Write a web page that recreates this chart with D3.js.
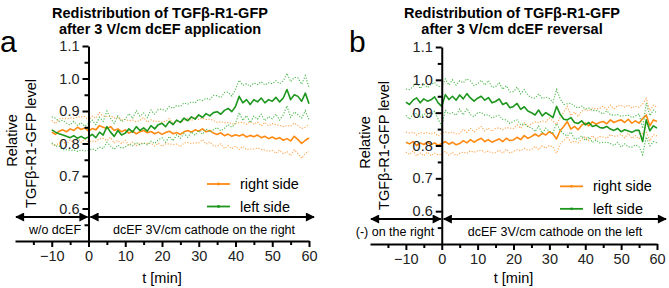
<!DOCTYPE html>
<html>
<head>
<meta charset="utf-8">
<script src="https://cdn.jsdelivr.net/npm/d3@7"></script>
<style>
  body { margin: 0; background: #fff; }
  svg { display: block; font-family: Arial, "Liberation Sans", sans-serif; }
</style>
</head>
<body>
<svg id="chart" width="669" height="288"></svg>
<script>
// ---- data (relative TGFb-R1-GFP level, mean and SEM, one value per minute)
const times = [-10,-9,-8,-7,-6,-5,-4,-3,-2,-1,
  0,1,2,3,4,5,6,7,8,9,
  10,11,12,13,14,15,16,17,18,19,
  20,21,22,23,24,25,26,27,28,29,
  30,31,32,33,34,35,36,37,38,39,
  40,41,42,43,44,45,46,47,48,49,
  50,51,52,53,54,55,56,57,58,59,
  60];

// panel a: dcEF application
const aRightMean = [.835,.828,.838,.842,.836,.845,.840,.850,.843,.848,
  .838,.846,.842,.855,.850,.846,.852,.840,.845,.836,
  .842,.832,.838,.830,.836,.840,.833,.837,.830,.835,
  .828,.834,.838,.830,.834,.828,.836,.840,.835,.842,
  .838,.845,.836,.840,.832,.828,.833,.824,.829,.822,
  .827,.823,.828,.820,.825,.821,.826,.818,.822,.815,
  .820,.814,.818,.810,.815,.808,.822,.812,.800,.810,
  .817];
const aRightErr = [.036,.033,.038,.035,.040,.034,.037,.032,.039,.035,
  .033,.038,.036,.040,.034,.037,.033,.039,.035,.036,
  .032,.038,.034,.037,.035,.040,.033,.036,.038,.034,
  .037,.035,.039,.033,.036,.038,.034,.037,.035,.040,
  .036,.033,.038,.035,.039,.037,.034,.040,.036,.038,
  .035,.041,.037,.039,.042,.038,.040,.036,.043,.039,
  .041,.044,.038,.042,.040,.045,.041,.043,.046,.040,
  .042];
const aLeftMean = [.842,.835,.830,.826,.822,.818,.824,.816,.822,.815,
  .820,.828,.818,.835,.826,.852,.835,.822,.840,.826,
  .832,.845,.835,.852,.840,.848,.838,.855,.845,.858,
  .862,.852,.868,.858,.872,.865,.878,.870,.882,.875,
  .888,.880,.892,.885,.895,.898,.890,.902,.908,.898,
  .914,.945,.925,.935,.920,.935,.928,.940,.925,.935,
  .930,.942,.928,.940,.966,.935,.950,.945,.930,.955,
  .922];
const aLeftErr = [.040,.043,.038,.045,.041,.039,.044,.040,.042,.038,
  .041,.044,.040,.046,.042,.048,.043,.040,.045,.041,
  .043,.047,.042,.049,.044,.046,.042,.048,.045,.047,
  .044,.048,.046,.050,.045,.049,.047,.051,.046,.050,
  .048,.052,.047,.050,.053,.049,.051,.055,.050,.048,
  .052,.050,.054,.049,.056,.051,.053,.050,.055,.052,
  .054,.051,.056,.052,.050,.055,.053,.057,.052,.054,
  .050];

// panel b: dcEF reversal
const bRightMean = [.810,.805,.812,.800,.808,.803,.810,.802,.808,.800,
  .806,.812,.804,.810,.802,.806,.815,.808,.818,.810,
  .817,.822,.812,.818,.810,.815,.820,.812,.822,.815,
  .817,.825,.818,.830,.822,.827,.835,.828,.837,.832,
  .842,.835,.820,.845,.858,.873,.850,.858,.848,.862,
  .868,.860,.872,.865,.870,.873,.866,.878,.870,.875,
  .878,.870,.880,.868,.875,.868,.882,.893,.860,.878,
  .873];
const bRightErr = [.030,.033,.029,.032,.031,.034,.030,.033,.031,.029,
  .032,.030,.034,.031,.033,.030,.035,.032,.034,.031,
  .033,.036,.032,.035,.033,.037,.034,.036,.033,.038,
  .035,.038,.034,.039,.036,.040,.037,.041,.038,.040,
  .042,.039,.044,.040,.043,.046,.041,.044,.040,.043,
  .041,.045,.042,.046,.043,.047,.044,.045,.042,.046,
  .044,.047,.043,.046,.045,.048,.044,.050,.046,.045,
  .044];
const bLeftMean = [.932,.925,.938,.945,.930,.942,.935,.939,.948,.930,
  .919,.955,.940,.950,.938,.954,.942,.958,.945,.935,
  .944,.950,.938,.946,.930,.934,.942,.925,.930,.915,
  .919,.928,.910,.918,.905,.900,.893,.908,.890,.900,
  .893,.885,.919,.895,.880,.878,.885,.870,.867,.875,
  .863,.870,.858,.862,.855,.853,.858,.850,.846,.852,
  .842,.848,.844,.840,.846,.846,.812,.878,.845,.860,
  .853];
const bLeftErr = [.040,.045,.042,.048,.043,.046,.041,.047,.044,.050,
  .060,.048,.044,.050,.046,.043,.049,.045,.051,.047,
  .044,.049,.046,.052,.047,.045,.050,.046,.052,.048,
  .045,.050,.047,.052,.048,.046,.051,.049,.053,.047,
  .050,.046,.052,.048,.045,.049,.044,.050,.047,.045,
  .048,.044,.049,.045,.047,.043,.048,.044,.046,.042,
  .047,.043,.048,.045,.044,.050,.040,.052,.046,.048,
  .045];

const seriesNames = ['right side', 'left side'];
const yTicks = [0.6, 0.7, 0.8, 0.9, 1.0, 1.1];
const yMinor = [0.55, 0.65, 0.75, 0.85, 0.95, 1.05];
const xTicks = [-10, 0, 10, 20, 30, 40, 50, 60];
const xMinor = [-15, -5, 5, 15, 25, 35, 45, 55];

// ---- style
const orange = '#ff8a12';
const orangeLight = '#ffa64d';
const green = '#1c961c';
const greenLight = '#4cb84c';

const svg = d3.select('#chart');

// arrowhead marker
const defs = svg.append('defs');
defs.append('marker')
  .attr('id', 'head')
  .attr('viewBox', '0 0 10 10')
  .attr('refX', 9)
  .attr('refY', 5)
  .attr('markerWidth', 5)
  .attr('markerHeight', 4.5)
  .attr('orient', 'auto-start-reverse')
  .append('path')
  .attr('d', 'M0,0 L10,5 L0,10 z')
  .attr('fill', '#000');

const panels = [
  {
    letter: 'a', letterX: 0, titleX: 160,
    title2: 'after 3 V/cm dcEF application',
    x0: 15, x1: 309, yBottom: 241, yTop: 46,
    ylab1: 17, ylab2: 36,
    right: [aRightMean, aRightErr], left: [aLeftMean, aLeftErr],
    arrowY: 217, arrowEnd: 314,
    leftText: 'w/o dcEF', leftTextX: 55,
    rightText: 'dcEF 3V/cm cathode on the right', rightTextX: 204,
    legX: 207
  },
  {
    letter: 'b', letterX: 349, titleX: 512,
    title2: 'after 3 V/cm dcEF reversal',
    x0: 370, x1: 657, yBottom: 244, yTop: 47,
    ylab1: 370, ylab2: 389,
    right: [bRightMean, bRightErr], left: [bLeftMean, bLeftErr],
    arrowY: 219, arrowEnd: 666,
    leftText: '(-) on the right', leftTextX: 395,
    rightText: 'dcEF 3V/cm cathode on the left', rightTextX: 555,
    legX: 560
  }
];

panels.forEach((p) => {
  const g = svg.append('g');

  const x = d3.scaleLinear().domain([-20, 60]).range([p.x0, p.x1]);
  const y = d3.scaleLinear().domain([0.5, 1.1]).range([p.yBottom, p.yTop]);

  // titles
  g.append('text')
    .attr('x', p.titleX).attr('y', 18)
    .attr('text-anchor', 'middle')
    .attr('font-size', 14.5).attr('font-weight', 'bold')
    .text('Redistribution of TGFβ-R1-GFP');
  g.append('text')
    .attr('x', p.titleX).attr('y', 34)
    .attr('text-anchor', 'middle')
    .attr('font-size', 14.5).attr('font-weight', 'bold')
    .text(p.title2);

  g.append('text')
    .attr('x', p.letterX).attr('y', 52)
    .attr('font-size', 30)
    .text(p.letter);

  // y label
  const yMid = (p.yBottom + p.yTop) / 2;
  g.append('text')
    .attr('transform', `translate(${p.ylab1},${yMid - 3}) rotate(-90)`)
    .attr('text-anchor', 'middle')
    .attr('font-size', 14.5)
    .text('Relative');
  g.append('text')
    .attr('transform', `translate(${p.ylab2},${yMid}) rotate(-90)`)
    .attr('text-anchor', 'middle')
    .attr('font-size', 14.5)
    .text('TGFβ-R1-GFP level');

  // series
  const drawSeries = (mean, err, col, colLight) => {
    const pts = times.map((t, i) => ({ t: t, m: mean[i], e: err[i] }));
    const line = (acc) => d3.line().x((d) => x(d.t)).y((d) => y(acc(d)));
    g.append('path')
      .datum(pts)
      .attr('d', line((d) => d.m + d.e))
      .attr('fill', 'none')
      .attr('stroke', colLight)
      .attr('stroke-width', 1.1)
      .attr('stroke-dasharray', '1.2,1.6');
    g.append('path')
      .datum(pts)
      .attr('d', line((d) => d.m - d.e))
      .attr('fill', 'none')
      .attr('stroke', colLight)
      .attr('stroke-width', 1.1)
      .attr('stroke-dasharray', '1.2,1.6');
    g.append('path')
      .datum(pts)
      .attr('d', line((d) => d.m))
      .attr('fill', 'none')
      .attr('stroke', col)
      .attr('stroke-width', 1.6)
      .attr('stroke-linejoin', 'round');
  };
  drawSeries(p.right[0], p.right[1], orange, orangeLight);
  drawSeries(p.left[0], p.left[1], green, greenLight);

  // axes
  g.append('g')
    .attr('transform', `translate(${x(0)},0)`)
    .call(d3.axisLeft(y).tickValues(yTicks).tickFormat(d3.format('.1f')).tickSize(6).tickPadding(3).tickSizeOuter(0));
  g.append('g')
    .attr('transform', `translate(${x(0)},0)`)
    .call(d3.axisLeft(y).tickValues(yMinor).tickFormat('').tickSize(4).tickSizeOuter(0))
    .select('.domain').remove();

  g.append('g')
    .attr('transform', `translate(0,${p.yBottom})`)
    .call(d3.axisBottom(x).tickValues(xTicks).tickSize(6).tickPadding(4).tickSizeOuter(0));
  g.append('g')
    .attr('transform', `translate(0,${p.yBottom})`)
    .call(d3.axisBottom(x).tickValues(xMinor).tickFormat('').tickSize(4).tickSizeOuter(0))
    .select('.domain').remove();

  g.selectAll('.domain, .tick line')
    .attr('stroke', '#000')
    .attr('stroke-width', 2);
  g.selectAll('.tick text')
    .attr('font-size', 14.5)
    .attr('fill', '#222')
    .attr('font-family', 'Arial, "Liberation Sans", sans-serif');

  g.append('text')
    .attr('x', (p.x0 + p.x1) / 2).attr('y', 283)
    .attr('text-anchor', 'middle')
    .attr('font-size', 14.5)
    .text('t [min]');

  // condition arrows
  g.append('line')
    .attr('x1', p.x0 + 1).attr('x2', x(0) - 1)
    .attr('y1', p.arrowY).attr('y2', p.arrowY)
    .attr('stroke', '#000').attr('stroke-width', 2)
    .attr('marker-start', 'url(#head)').attr('marker-end', 'url(#head)');
  g.append('line')
    .attr('x1', x(0) + 2).attr('x2', p.arrowEnd)
    .attr('y1', p.arrowY).attr('y2', p.arrowY)
    .attr('stroke', '#000').attr('stroke-width', 2)
    .attr('marker-start', 'url(#head)').attr('marker-end', 'url(#head)');
  g.append('text')
    .attr('x', p.leftTextX).attr('y', p.arrowY + 17)
    .attr('text-anchor', 'middle')
    .attr('font-size', 12.5)
    .text(p.leftText);
  g.append('text')
    .attr('x', p.rightTextX).attr('y', p.arrowY + 17)
    .attr('text-anchor', 'middle')
    .attr('font-size', 12.5)
    .text(p.rightText);

  // legend
  const legColors = [orange, green];
  seriesNames.forEach((name, i) => {
    const ly = y(0.7) + 8 + i * 22.5;
    g.append('line')
      .attr('x1', p.legX).attr('x2', p.legX + 23)
      .attr('y1', ly).attr('y2', ly)
      .attr('stroke', legColors[i]).attr('stroke-width', 1.8);
    g.append('circle')
      .attr('cx', p.legX + 11.5).attr('cy', ly).attr('r', 1.4)
      .attr('fill', legColors[i]);
    g.append('text')
      .attr('x', p.legX + 33).attr('y', ly + 5)
      .attr('font-size', 14.5)
      .text(name);
  });
});
</script>
</body>
</html>
